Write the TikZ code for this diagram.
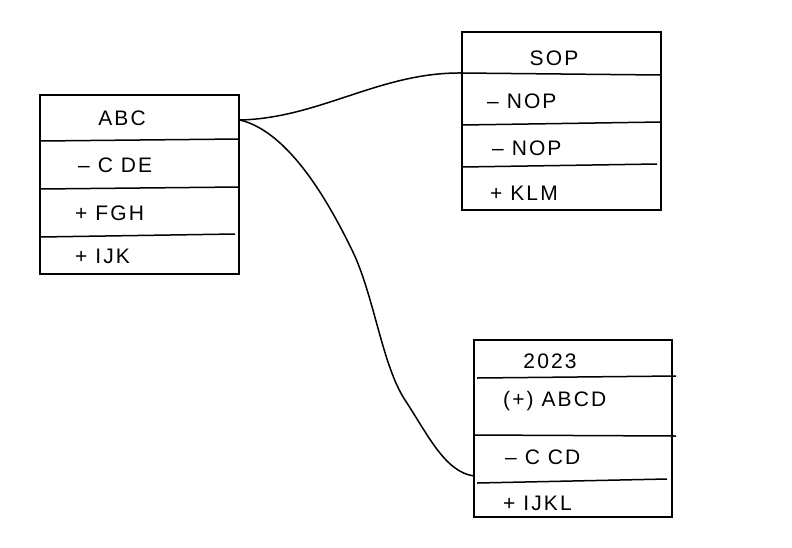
\documentclass[tikz,border=0pt]{standalone}
\usepackage{fontspec}
\setmainfont{Liberation Sans}[LetterSpace=10]
\begin{document}
\begin{tikzpicture}[x=1pt,y=-1pt,
  box/.style={draw, line width=1.5pt, inner sep=0pt},
  divider/.style={line width=1.5pt},
  conn/.style={line width=1.5pt},
  lbl/.style={anchor=west, inner sep=0pt, font=\fontsize{21}{24}\selectfont},
  ttl/.style={anchor=center, inner sep=0pt, font=\fontsize{21}{24}\selectfont}]
\useasboundingbox (0,0) rectangle (792,547);
% boxes
\node[box, minimum width=199pt, minimum height=179pt] (abc) at (139.5,184.5) {};
\node[box, minimum width=199pt, minimum height=178pt] (sop) at (561.5,121) {};
\node[box, minimum width=198pt, minimum height=177pt] (yr) at (573,428.5) {};
% dividers ABC
\coordinate (a1l) at (40,141); \coordinate (a1r) at (239,139);
\coordinate (a2l) at (40,189); \coordinate (a2r) at (239,187);
\coordinate (a3l) at (40,237); \coordinate (a3r) at (235,234);
\draw[divider] (a1l) -- (a1r);
\draw[divider] (a2l) -- (a2r);
\draw[divider] (a3l) -- (a3r);
% dividers SOP
\coordinate (s1l) at (462,73); \coordinate (s1r) at (661,75);
\coordinate (s2l) at (462,125); \coordinate (s2r) at (661,122);
\coordinate (s3l) at (462,167); \coordinate (s3r) at (657,164);
\draw[divider] (s1l) -- (s1r);
\draw[divider] (s2l) -- (s2r);
\draw[divider] (s3l) -- (s3r);
% dividers 2023
\coordinate (y1l) at (477,378); \coordinate (y1r) at (676,376);
\coordinate (y2l) at (474,435); \coordinate (y2r) at (676,436);
\coordinate (y3l) at (477,483); \coordinate (y3r) at (667,479);
\draw[divider] (y1l) -- (y1r);
\draw[divider] (y2l) -- (y2r);
\draw[divider] (y3l) -- (y3r);
% texts ABC
\node[ttl] (t1) at (122,118) {ABC};
\node[lbl] (t2) at (78,165) {– C DE};
\node[lbl] (t3) at (75,213) {+ FGH};
\node[lbl] (t4) at (75,256) {+ IJK};
% texts SOP
\node[ttl] (t5) at (554,58) {SOP};
\node[lbl] (t6) at (487,101) {– NOP};
\node[lbl] (t7) at (492,148) {– NOP};
\node[lbl] (t8) at (490,193) {+ KLM};
% texts 2023
\node[ttl] (t9) at (550,361) {2023};
\node[lbl] (t10) at (503,401) {(+) ABCD};
\node[lbl] (t11) at (505,457) {–  C CD};
\node[lbl] (t12) at (503,503) {+ IJKL};
% connectors
\coordinate (p0) at (240,120);
\coordinate (p1) at (462,73);
\coordinate (p2) at (474,476);
\draw[conn] (p0) .. controls (320,118) and (380,72) .. (p1);
\draw[conn] (p0) .. controls (290,132) and (330,205) .. (352,250)
  .. controls (374,295) and (382,365) .. (405,400)
  .. controls (428,435) and (445,472) .. (p2);
\end{tikzpicture}
\end{document}
